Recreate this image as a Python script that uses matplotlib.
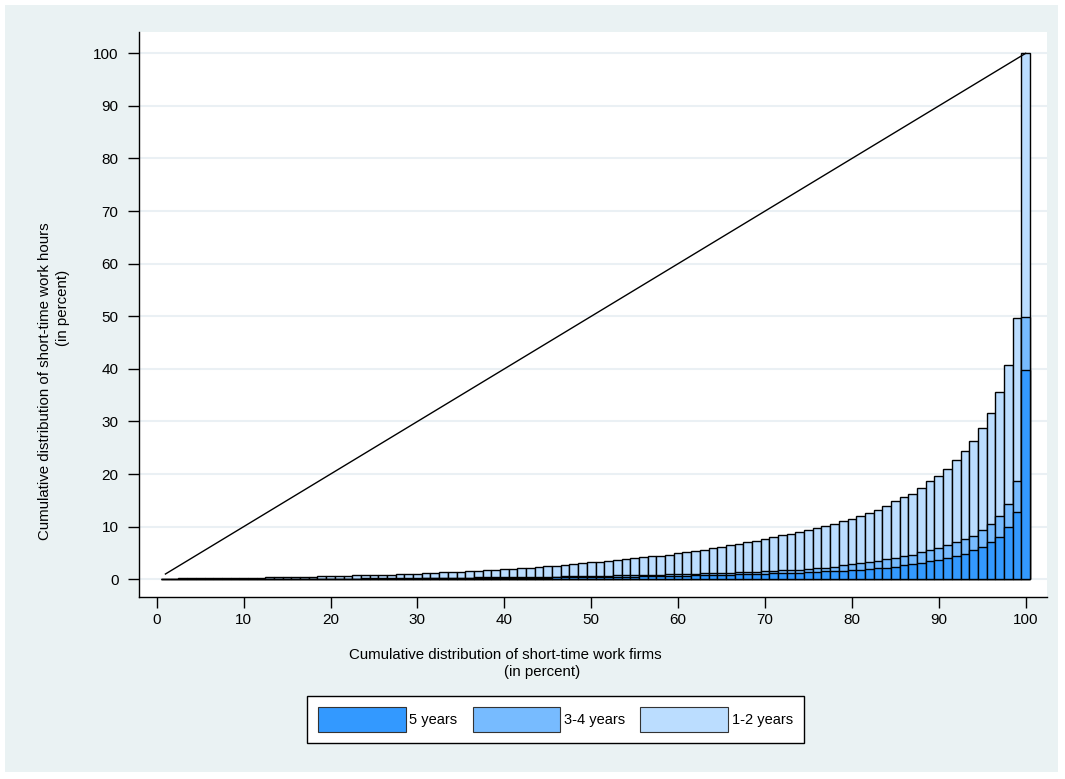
import numpy as np
import matplotlib
matplotlib.use("Agg")
import matplotlib.pyplot as plt
from matplotlib.patches import Rectangle

plt.rcParams['font.family'] = ['Liberation Sans', 'DejaVu Sans']

# percentiles of short-time work firms (1..100)
pct = list(range(1, 101))

# cumulative share of short-time work hours (in percent)
hours_1_2 = [
    0.1, 0.1, 0.15, 0.15, 0.2, 0.2, 0.2, 0.25, 0.25, 0.25,
    0.3, 0.3, 0.35, 0.35, 0.4, 0.4, 0.45, 0.5, 0.55, 0.6,
    0.65, 0.7, 0.75, 0.8, 0.85, 0.9, 0.9, 0.95, 1.0, 1.05,
    1.15, 1.2, 1.3, 1.4, 1.45, 1.55, 1.6, 1.7, 1.8, 1.9,
    2.0, 2.1, 2.2, 2.35, 2.5, 2.6, 2.75, 2.9, 3.0, 3.2,
    3.35, 3.5, 3.65, 3.8, 3.95, 4.15, 4.35, 4.5, 4.7, 4.95,
    5.15, 5.4, 5.65, 5.9, 6.15, 6.45, 6.75, 7.05, 7.35, 7.7,
    8.05, 8.4, 8.7, 9.0, 9.3, 9.7, 10.05, 10.5, 11.0, 11.5,
    12.0, 12.6, 13.2, 14.0, 14.8, 15.6, 16.3, 17.4, 18.6, 19.7,
    21.0, 22.7, 24.4, 26.3, 28.8, 31.7, 35.7, 40.8, 49.6, 100.0,
]
hours_3_4 = [
    0.0, 0.0, 0.0, 0.0, 0.02, 0.02, 0.03, 0.03, 0.04, 0.04,
    0.05, 0.05, 0.06, 0.06, 0.07, 0.07, 0.08, 0.09, 0.1, 0.11,
    0.12, 0.13, 0.14, 0.15, 0.16, 0.17, 0.18, 0.2, 0.21, 0.22,
    0.24, 0.25, 0.27, 0.29, 0.3, 0.32, 0.34, 0.36, 0.38, 0.4,
    0.42, 0.44, 0.46, 0.48, 0.5, 0.52, 0.55, 0.58, 0.6, 0.63,
    0.66, 0.69, 0.72, 0.75, 0.78, 0.82, 0.86, 0.9, 0.94, 0.98,
    1.02, 1.07, 1.12, 1.17, 1.22, 1.28, 1.34, 1.4, 1.46, 1.52,
    1.6, 1.68, 1.76, 1.85, 1.95, 2.05, 2.2, 2.4, 2.65, 2.95,
    3.15, 3.35, 3.55, 3.8, 4.05, 4.4, 4.7, 5.1, 5.5, 6.0,
    6.5, 7.0, 7.6, 8.3, 9.3, 10.5, 12.1, 14.4, 18.7, 49.8,
]
hours_5 = [
    0.0, 0.0, 0.0, 0.0, 0.01, 0.01, 0.01, 0.01, 0.02, 0.02,
    0.02, 0.03, 0.03, 0.03, 0.04, 0.04, 0.05, 0.05, 0.06, 0.06,
    0.07, 0.07, 0.08, 0.09, 0.09, 0.1, 0.11, 0.12, 0.13, 0.14,
    0.15, 0.16, 0.17, 0.18, 0.19, 0.2, 0.21, 0.22, 0.24, 0.25,
    0.26, 0.28, 0.29, 0.31, 0.32, 0.34, 0.36, 0.38, 0.4, 0.42,
    0.44, 0.46, 0.48, 0.5, 0.52, 0.55, 0.58, 0.61, 0.64, 0.67,
    0.7, 0.73, 0.76, 0.8, 0.84, 0.88, 0.92, 0.96, 1.0, 1.05,
    1.1, 1.15, 1.2, 1.26, 1.32, 1.4, 1.48, 1.56, 1.65, 1.75,
    1.85, 1.95, 2.05, 2.2, 2.4, 2.65, 2.9, 3.15, 3.4, 3.7,
    4.0, 4.4, 4.9, 5.5, 6.1, 7.0, 8.1, 9.9, 12.8, 39.8,
]

# line of equal distribution
equal_x = [1, 100]
equal_y = [1, 100]

ticks = list(range(0, 101, 10))

c_light = '#bbddff'
c_mid = '#77bbff'
c_dark = '#3399ff'
bg = '#eaf2f3'

W, H = 1065, 779
fig = plt.figure(figsize=(W / 100, H / 100), dpi=100, facecolor='white')
fig.patches.append(Rectangle((5 / W, 7 / H), 1053 / W, 767 / H,
                             transform=fig.transFigure, facecolor=bg,
                             edgecolor='none', zorder=-10))

ax = fig.add_axes([139 / W, 1 - 597 / H, 908 / W, 565 / H])
ax.set_facecolor('white')

# bars, overlaid
ax.bar(pct, hours_1_2, width=1.0, color=c_light, edgecolor='black',
       linewidth=1.0, zorder=3, label='1-2 years')
ax.bar(pct, hours_3_4, width=1.0, color=c_mid, edgecolor='black',
       linewidth=1.0, zorder=4, label='3-4 years')
ax.bar(pct, hours_5, width=1.0, color=c_dark, edgecolor='black',
       linewidth=1.0, zorder=5, label='5 years')
ax.plot(equal_x, equal_y, color='black', linewidth=1.0, zorder=6)

ax.set_xlim(-2.04, 102.45)
ax.set_ylim(-3.37, 104.05)
ax.set_xticks(ticks)
ax.set_yticks(ticks)
ax.tick_params(axis='both', direction='out', length=7.7, width=1,
               color='black', labelsize=11)
ax.tick_params(axis='x', pad=4)
ax.tick_params(axis='y', pad=7)
ax.yaxis.grid(True, color='#eaf0f4', linewidth=1.5, zorder=0)
ax.set_axisbelow(True)
for side in ['top', 'right']:
    ax.spines[side].set_visible(False)
for side in ['left', 'bottom']:
    ax.spines[side].set_linewidth(1)
    ax.spines[side].set_color('black')

# axis titles
fig.text(505 / W, 1 - 655 / H, 'Cumulative distribution of short-time work firms',
         ha='center', va='center', fontsize=10.8)
fig.text(542 / W, 1 - 672 / H, '(in percent)', ha='center', va='center',
         fontsize=10.8)
fig.text(45 / W, 1 - 381 / H, 'Cumulative distribution of short-time work hours',
         ha='center', va='center', rotation=90, fontsize=10.8)
fig.text(63 / W, 1 - 308 / H, '(in percent)', ha='center', va='center',
         rotation=90, fontsize=10.8)

# legend
h, l = ax.get_legend_handles_labels()
order = [2, 1, 0]
leg = fig.legend([h[i] for i in order], [l[i] for i in order], ncol=3,
                 loc='center', bbox_to_anchor=(555.5 / W, 1 - 719.5 / H),
                 fontsize=10.5, handlelength=6.0, handleheight=2.2,
                 handletextpad=0.25, columnspacing=1.05, borderpad=0.8,
                 frameon=True, fancybox=False, framealpha=1)
leg.get_frame().set_edgecolor('black')
leg.get_frame().set_linewidth(1)
for p in leg.get_patches():
    p.set_edgecolor('#333333')
    p.set_linewidth(0.8)

fig.savefig('out.png', dpi=100, facecolor=fig.get_facecolor())
